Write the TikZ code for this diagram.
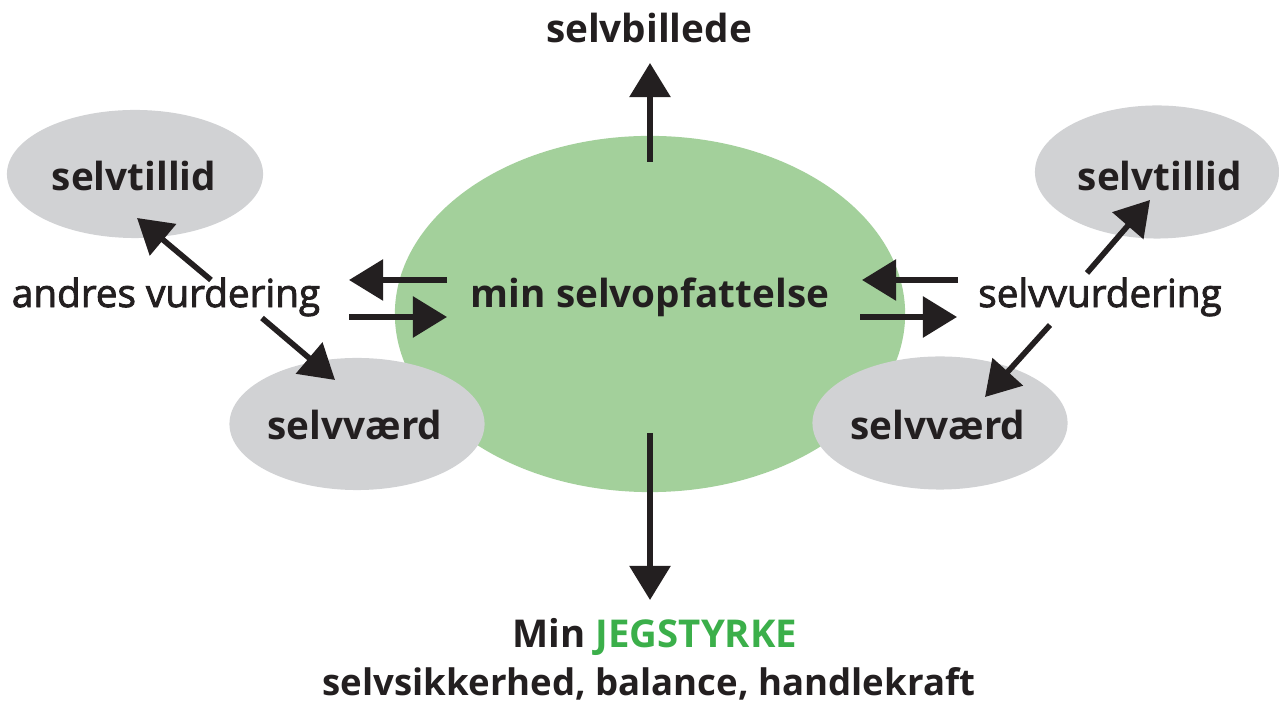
\documentclass[tikz,border=0pt]{standalone}
\usepackage{fontspec}
\setmainfont{Open Sans}
\newfontfamily\mediumfont[RawFeature={embolden=2.2}]{Open Sans}
\usetikzlibrary{arrows.meta,shapes.geometric}
\definecolor{core}{HTML}{A3D09B}
\definecolor{bubble}{HTML}{D1D2D4}
\definecolor{ink}{HTML}{231F20}
\definecolor{strong}{HTML}{3BAF4A}
\tikzset{
  bubblebox/.style={ellipse, fill=bubble, inner sep=0pt},
  label/.style={text=ink, font=\fontsize{11}{14}\selectfont\bfseries, inner sep=0pt},
  plainlabel/.style={text=ink, font=\fontsize{11}{14}\selectfont\mediumfont, inner sep=0pt},
  link/.style={draw=ink, line width=1.6pt, -{Triangle[length=0.34cm,width=0.4cm]}}
}
\begin{document}
\begin{tikzpicture}[x=0.01cm, y=-0.01cm]
\useasboundingbox (0,0) rectangle (1279,701);
% central ellipse
\node[ellipse, fill=core, minimum width=5.1cm, minimum height=3.56cm] (core) at (650,314) {};
% surrounding bubbles
\node[bubblebox, minimum width=2.56cm, minimum height=1.28cm] (tl) at (135,174) {};
\node[bubblebox, minimum width=2.55cm, minimum height=1.32cm] (bl) at (357,424) {};
\node[bubblebox, minimum width=2.44cm, minimum height=1.33cm] (tr) at (1157,172) {};
\node[bubblebox, minimum width=2.55cm, minimum height=1.33cm] (br) at (940,423) {};
% texts
\node[label] (tltext) at (134,176) {selvtillid};
\node[label] (trtext) at (1160,176) {selvtillid};
\node[label] (bltext) at (355,425) {selvværd};
\node[label] (brtext) at (938,425) {selvværd};
\node[label] (coretext) at (650,297) {min selvopfattelse};
\node[label] (top) at (649,28) {selvbillede};
\node[plainlabel] (others) at (166,297) {andres vurdering};
\node[plainlabel] (own) at (1100,297) {selvvurdering};
\node[label, font=\fontsize{10.9}{14}\selectfont\bfseries] (bottom1) at (655,637) {Min \textcolor{strong}{JEGSTYRKE}};
\node[label, font=\fontsize{10.4}{14}\selectfont\bfseries] (bottom2) at (649,684) {selvsikkerhed, balance, handlekraft};
% arrow end points
\coordinate (upA) at (650,162);  \coordinate (upB) at (650,63);
\coordinate (dnA) at (650,433);  \coordinate (dnB) at (650,600);
\coordinate (lA1) at (447,280);  \coordinate (lB1) at (349,280);
\coordinate (lA2) at (349,317);  \coordinate (lB2) at (447,317);
\coordinate (rA1) at (958,280);  \coordinate (rB1) at (862,280);
\coordinate (rA2) at (860,317);  \coordinate (rB2) at (957,317);
\coordinate (dlA1) at (211,280); \coordinate (dlB1) at (137,218);
\coordinate (dlA2) at (262,318); \coordinate (dlB2) at (335,380);
\coordinate (drA1) at (1087,273); \coordinate (drB1) at (1150,200);
\coordinate (drA2) at (1050,325); \coordinate (drB2) at (985,397);
% arrows
\draw[link] (upA) -- (upB);
\draw[link] (dnA) -- (dnB);
\draw[link] (lA1) -- (lB1);
\draw[link] (lA2) -- (lB2);
\draw[link] (rA1) -- (rB1);
\draw[link] (rA2) -- (rB2);
\draw[link] (dlA1) -- (dlB1);
\draw[link] (dlA2) -- (dlB2);
\draw[link] (drA1) -- (drB1);
\draw[link] (drA2) -- (drB2);
\end{tikzpicture}
\end{document}
